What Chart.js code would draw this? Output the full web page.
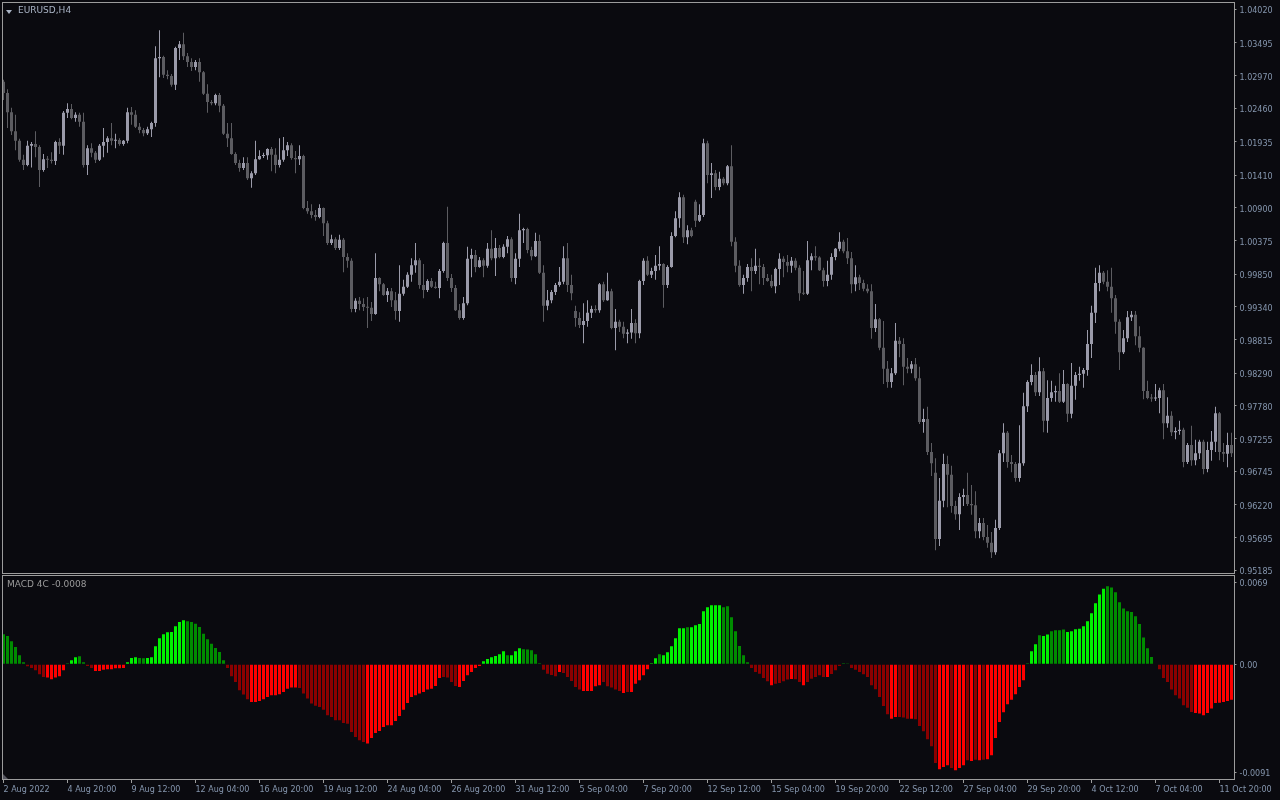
<!DOCTYPE html>
<html>
<head>
<meta charset="utf-8">
<title>EURUSD,H4</title>
<script src="https://cdn.jsdelivr.net/npm/chart.js@4.4.0/dist/chart.umd.min.js"></script>
<style>
    html, body {
        margin: 0;
        padding: 0;
        background: #0a0a0f;
        width: 1280px;
        height: 800px;
        overflow: hidden;
    }
    canvas {
        position: absolute;
        left: 0;
    }
    #price-chart { top: 0; }
    #macd-chart { top: 575px; }
    .label {
        position: absolute;
        font-family: "DejaVu Sans", sans-serif;
        font-size: 9px;
        line-height: 11px;
        white-space: nowrap;
    }
    #symbol { left: 18px; top: 5px; color: #a9b3c4; }
    #symbol-arrow {
        position: absolute;
        left: 6px;
        top: 10px;
        width: 0;
        height: 0;
        border-left: 3px solid transparent;
        border-right: 3px solid transparent;
        border-top: 4px solid #a9b3c4;
    }
    #macd-name { left: 7px; top: 579px; color: #9a9a9a; }
    #corner {
        position: absolute;
        left: 3px;
        top: 774px;
        width: 0;
        height: 0;
        border-left: 5px solid #55555f;
        border-top: 5px solid transparent;
    }
</style>
</head>
<body>
<canvas id="price-chart" width="1280" height="575"></canvas>
<canvas id="macd-chart" width="1280" height="225"></canvas>
<div id="symbol-arrow"></div>
<div class="label" id="symbol">EURUSD,H4</div>
<div class="label" id="macd-name">MACD 4C -0.0008</div>
<div id="corner"></div>

<script>
// EURUSD H4 candles, 2 Aug 2022 - 11 Oct 2022
const opens = [
    1.0288, 1.0270, 1.0240, 1.0210, 1.0195, 1.0165, 1.0157, 1.0187, 1.0190, 1.0185,
    1.0149, 1.0166, 1.0165, 1.0163, 1.0193, 1.0187, 1.0239, 1.0245, 1.0231, 1.0236,
    1.0225, 1.0157, 1.0183, 1.0176, 1.0165, 1.0187, 1.0193, 1.0199, 1.0195, 1.0196,
    1.0190, 1.0195, 1.0240, 1.0236, 1.0217, 1.0212, 1.0207, 1.0213, 1.0223, 1.0325,
    1.0327, 1.0299, 1.0297, 1.0283, 1.0341, 1.0347, 1.0328, 1.0319, 1.0311, 1.0319,
    1.0303, 1.0269, 1.0256, 1.0254, 1.0267, 1.0250, 1.0206, 1.0199, 1.0174, 1.0160,
    1.0152, 1.0160, 1.0136, 1.0144, 1.0166, 1.0171, 1.0172, 1.0182, 1.0173, 1.0157,
    1.0165, 1.0180, 1.0188, 1.0168, 1.0166, 1.0171, 1.0089, 1.0084, 1.0078, 1.0075,
    1.0089, 1.0065, 1.0034, 1.0040, 1.0026, 1.0039, 1.0012, 1.0006, 0.9930, 0.9943,
    0.9938, 0.9933, 0.9932, 0.9922, 0.9979, 0.9969, 0.9952, 0.9958, 0.9944, 0.9927,
    0.9954, 0.9965, 0.9984, 0.9999, 1.0007, 0.9968, 0.9960, 0.9974, 0.9965, 0.9963,
    0.9990, 1.0034, 0.9979, 0.9963, 0.9928, 0.9916, 0.9939, 1.0009, 1.0015, 0.9996,
    1.0007, 0.9998, 1.0025, 1.0010, 1.0026, 1.0012, 1.0028, 1.0040, 0.9979, 1.0009,
    1.0054, 1.0056, 1.0023, 1.0013, 1.0037, 0.9987, 0.9935, 0.9944, 0.9957, 0.9968,
    0.9973, 1.0010, 0.9968, 0.9927, 0.9916, 0.9905, 0.9911, 0.9924, 0.9930, 0.9928,
    0.9969, 0.9944, 0.9958, 0.9900, 0.9910, 0.9902, 0.9891, 0.9893, 0.9908, 0.9892,
    0.9974, 1.0006, 0.9984, 0.9990, 0.9998, 1.0001, 0.9968, 0.9996, 1.0045, 1.0073,
    1.0106, 1.0043, 1.0054, 1.0099, 1.0069, 1.0078, 1.0191, 1.0141, 1.0144, 1.0122,
    1.0135, 1.0128, 1.0155, 1.0036, 0.9998, 0.9968, 0.9979, 0.9996, 0.9990, 0.9998,
    0.9996, 0.9979, 0.9974, 0.9966, 0.9993, 1.0009, 1.0004, 0.9998, 1.0006, 0.9995,
    0.9955, 0.9954, 1.0007, 1.0013, 1.0011, 0.9991, 0.9974, 0.9984, 1.0012, 1.0025,
    1.0036, 1.0021, 1.0010, 0.9969, 0.9980, 0.9971, 0.9962, 0.9958, 0.9900, 0.9914,
    0.9869, 0.9836, 0.9815, 0.9829, 0.9880, 0.9875, 0.9839, 0.9836, 0.9843, 0.9821,
    0.9752, 0.9757, 0.9705, 0.9672, 0.9568, 0.9628, 0.9686, 0.9669, 0.9620, 0.9607,
    0.9634, 0.9637, 0.9623, 0.9621, 0.9580, 0.9593, 0.9571, 0.9562, 0.9547, 0.9585,
    0.9703, 0.9735, 0.9689, 0.9686, 0.9664, 0.9687, 0.9777, 0.9815, 0.9826, 0.9799,
    0.9832, 0.9754, 0.9790, 0.9799, 0.9801, 0.9784, 0.9812, 0.9765, 0.9809, 0.9826,
    0.9828, 0.9834, 0.9875, 0.9924, 0.9971, 0.9987, 0.9973, 0.9965, 0.9947, 0.9910,
    0.9862, 0.9884, 0.9917, 0.9921, 0.9887, 0.9869, 0.9801, 0.9790, 0.9789, 0.9790,
    0.9802, 0.9750, 0.9762, 0.9736, 0.9738, 0.9740, 0.9689, 0.9716, 0.9692, 0.9703,
    0.9721, 0.9678, 0.9708, 0.9721, 0.9766, 0.9705, 0.9702, 0.9716
];
const highs = [
    1.0291, 1.0276, 1.0247, 1.0236, 1.0198, 1.0173, 1.0195, 1.0193, 1.0210, 1.0188,
    1.0174, 1.0171, 1.0177, 1.0195, 1.0199, 1.0242, 1.0254, 1.0253, 1.0240, 1.0239,
    1.0239, 1.0188, 1.0191, 1.0179, 1.0190, 1.0215, 1.0202, 1.0223, 1.0206, 1.0199,
    1.0196, 1.0247, 1.0248, 1.0243, 1.0223, 1.0215, 1.0217, 1.0225, 1.0344, 1.0369,
    1.0329, 1.0306, 1.0300, 1.0343, 1.0352, 1.0365, 1.0333, 1.0325, 1.0322, 1.0325,
    1.0305, 1.0284, 1.0259, 1.0269, 1.0270, 1.0253, 1.0223, 1.0223, 1.0177, 1.0165,
    1.0169, 1.0169, 1.0147, 1.0195, 1.0180, 1.0176, 1.0183, 1.0185, 1.0183, 1.0199,
    1.0201, 1.0193, 1.0191, 1.0179, 1.0188, 1.0173, 1.0100, 1.0095, 1.0086, 1.0095,
    1.0090, 1.0069, 1.0047, 1.0043, 1.0047, 1.0042, 1.0018, 1.0010, 0.9947, 0.9949,
    0.9947, 0.9949, 0.9941, 1.0018, 0.9980, 0.9971, 0.9963, 0.9963, 0.9957, 0.9999,
    0.9976, 0.9988, 1.0010, 1.0034, 1.0010, 1.0001, 0.9977, 0.9979, 0.9973, 0.9993,
    1.0036, 1.0091, 0.9985, 0.9968, 0.9938, 0.9949, 1.0028, 1.0025, 1.0023, 1.0012,
    1.0010, 1.0034, 1.0054, 1.0042, 1.0031, 1.0032, 1.0045, 1.0043, 1.0018, 1.0080,
    1.0058, 1.0058, 1.0028, 1.0050, 1.0047, 0.9999, 0.9960, 0.9960, 0.9971, 0.9996,
    1.0029, 1.0034, 0.9984, 0.9935, 0.9925, 0.9939, 0.9944, 0.9935, 0.9936, 0.9971,
    0.9973, 0.9987, 0.9962, 0.9930, 0.9913, 0.9910, 0.9898, 0.9930, 0.9914, 0.9976,
    1.0010, 1.0013, 0.9995, 1.0015, 1.0029, 1.0002, 0.9999, 1.0051, 1.0084, 1.0114,
    1.0110, 1.0062, 1.0058, 1.0102, 1.0095, 1.0198, 1.0195, 1.0160, 1.0149, 1.0146,
    1.0138, 1.0157, 1.0188, 1.0043, 1.0007, 0.9984, 1.0001, 1.0010, 1.0025, 1.0010,
    1.0001, 0.9985, 0.9984, 0.9995, 1.0018, 1.0013, 1.0015, 1.0012, 1.0010, 0.9999,
    0.9990, 1.0037, 1.0018, 1.0029, 1.0013, 0.9995, 1.0006, 1.0018, 1.0026, 1.0051,
    1.0039, 1.0042, 1.0020, 0.9999, 0.9984, 0.9976, 0.9969, 0.9969, 0.9938, 0.9916,
    0.9911, 0.9848, 0.9837, 0.9908, 0.9886, 0.9884, 0.9853, 0.9848, 0.9853, 0.9839,
    0.9773, 0.9776, 0.9719, 0.9695, 0.9664, 0.9702, 0.9699, 0.9683, 0.9628, 0.9640,
    0.9647, 0.9672, 0.9653, 0.9643, 0.9601, 0.9601, 0.9590, 0.9579, 0.9598, 0.9708,
    0.9750, 0.9738, 0.9700, 0.9689, 0.9747, 0.9798, 0.9818, 0.9843, 0.9831, 0.9854,
    0.9837, 0.9818, 0.9817, 0.9809, 0.9829, 0.9834, 0.9813, 0.9845, 0.9831, 0.9839,
    0.9837, 0.9897, 0.9935, 0.9995, 0.9999, 0.9990, 0.9991, 0.9995, 0.9952, 0.9914,
    0.9897, 0.9927, 0.9927, 0.9927, 0.9903, 0.9870, 0.9817, 0.9796, 0.9812, 0.9806,
    0.9812, 0.9791, 0.9769, 0.9744, 0.9754, 0.9743, 0.9719, 0.9746, 0.9724, 0.9724,
    0.9724, 0.9721, 0.9738, 0.9776, 0.9768, 0.9719, 0.9735, 0.9735
];
const lows = [
    1.0259, 1.0215, 1.0204, 1.0180, 1.0162, 1.0149, 1.0155, 1.0153, 1.0169, 1.0122,
    1.0146, 1.0152, 1.0159, 1.0157, 1.0174, 1.0173, 1.0231, 1.0229, 1.0225, 1.0217,
    1.0153, 1.0141, 1.0169, 1.0160, 1.0163, 1.0169, 1.0176, 1.0188, 1.0183, 1.0187,
    1.0187, 1.0191, 1.0220, 1.0215, 1.0207, 1.0202, 1.0204, 1.0201, 1.0217, 1.0295,
    1.0294, 1.0292, 1.0280, 1.0275, 1.0322, 1.0322, 1.0311, 1.0305, 1.0306, 1.0288,
    1.0267, 1.0239, 1.0251, 1.0251, 1.0240, 1.0204, 1.0185, 1.0173, 1.0157, 1.0146,
    1.0149, 1.0133, 1.0121, 1.0141, 1.0165, 1.0168, 1.0165, 1.0147, 1.0144, 1.0153,
    1.0162, 1.0171, 1.0165, 1.0144, 1.0157, 1.0087, 1.0080, 1.0073, 1.0069, 1.0073,
    1.0045, 1.0031, 1.0031, 1.0023, 1.0023, 0.9988, 0.9995, 0.9925, 0.9925, 0.9928,
    0.9927, 0.9900, 0.9911, 0.9921, 0.9958, 0.9951, 0.9941, 0.9933, 0.9913, 0.9910,
    0.9951, 0.9963, 0.9973, 0.9987, 0.9962, 0.9947, 0.9957, 0.9963, 0.9962, 0.9947,
    0.9987, 0.9974, 0.9957, 0.9927, 0.9913, 0.9913, 0.9936, 0.9980, 0.9988, 0.9995,
    0.9980, 0.9995, 1.0007, 0.9982, 1.0010, 1.0010, 1.0018, 0.9973, 0.9969, 0.9996,
    1.0034, 1.0018, 1.0007, 1.0012, 0.9985, 0.9910, 0.9928, 0.9939, 0.9952, 0.9965,
    0.9969, 0.9957, 0.9944, 0.9902, 0.9900, 0.9876, 0.9902, 0.9916, 0.9924, 0.9924,
    0.9941, 0.9943, 0.9898, 0.9865, 0.9894, 0.9884, 0.9876, 0.9883, 0.9876, 0.9884,
    0.9968, 0.9982, 0.9979, 0.9976, 0.9991, 0.9932, 0.9963, 0.9995, 1.0043, 1.0058,
    1.0034, 1.0032, 1.0043, 1.0059, 1.0067, 1.0075, 1.0128, 1.0105, 1.0117, 1.0117,
    1.0125, 1.0125, 1.0029, 0.9988, 0.9965, 0.9954, 0.9973, 0.9958, 0.9985, 0.9969,
    0.9968, 0.9973, 0.9963, 0.9955, 0.9968, 0.9980, 0.9988, 0.9987, 0.9991, 0.9943,
    0.9952, 0.9952, 0.9991, 1.0006, 0.9990, 0.9965, 0.9966, 0.9976, 1.0007, 1.0021,
    1.0018, 1.0001, 0.9955, 0.9958, 0.9960, 0.9958, 0.9955, 0.9883, 0.9894, 0.9865,
    0.9812, 0.9806, 0.9806, 0.9826, 0.9854, 0.9810, 0.9829, 0.9829, 0.9817, 0.9749,
    0.9735, 0.9700, 0.9667, 0.9550, 0.9557, 0.9618, 0.9618, 0.9609, 0.9598, 0.9582,
    0.9620, 0.9620, 0.9606, 0.9569, 0.9569, 0.9566, 0.9554, 0.9538, 0.9543, 0.9582,
    0.9689, 0.9680, 0.9673, 0.9658, 0.9658, 0.9683, 0.9768, 0.9810, 0.9793, 0.9793,
    0.9736, 0.9735, 0.9784, 0.9784, 0.9782, 0.9782, 0.9752, 0.9758, 0.9787, 0.9817,
    0.9806, 0.9825, 0.9853, 0.9908, 0.9958, 0.9969, 0.9958, 0.9924, 0.9891, 0.9834,
    0.9859, 0.9878, 0.9911, 0.9873, 0.9862, 0.9788, 0.9788, 0.9784, 0.9785, 0.9766,
    0.9725, 0.9743, 0.9730, 0.9725, 0.9732, 0.9681, 0.9686, 0.9683, 0.9684, 0.9694,
    0.9670, 0.9673, 0.9691, 0.9705, 0.9692, 0.9689, 0.9681, 0.9697
];
const closes = [
    1.0270, 1.0240, 1.0210, 1.0195, 1.0165, 1.0157, 1.0187, 1.0190, 1.0185, 1.0149,
    1.0166, 1.0165, 1.0163, 1.0193, 1.0187, 1.0239, 1.0245, 1.0231, 1.0236, 1.0225,
    1.0157, 1.0183, 1.0176, 1.0165, 1.0187, 1.0193, 1.0199, 1.0195, 1.0196, 1.0190,
    1.0195, 1.0240, 1.0236, 1.0217, 1.0212, 1.0207, 1.0213, 1.0223, 1.0325, 1.0327,
    1.0299, 1.0297, 1.0283, 1.0341, 1.0347, 1.0328, 1.0319, 1.0311, 1.0319, 1.0303,
    1.0269, 1.0256, 1.0254, 1.0267, 1.0250, 1.0206, 1.0199, 1.0174, 1.0160, 1.0152,
    1.0160, 1.0136, 1.0144, 1.0166, 1.0171, 1.0172, 1.0182, 1.0173, 1.0157, 1.0165,
    1.0180, 1.0188, 1.0168, 1.0166, 1.0171, 1.0089, 1.0084, 1.0078, 1.0075, 1.0089,
    1.0065, 1.0034, 1.0040, 1.0026, 1.0039, 1.0012, 1.0006, 0.9930, 0.9943, 0.9938,
    0.9933, 0.9932, 0.9922, 0.9979, 0.9969, 0.9952, 0.9958, 0.9944, 0.9927, 0.9954,
    0.9965, 0.9984, 0.9999, 1.0007, 0.9968, 0.9960, 0.9974, 0.9965, 0.9963, 0.9990,
    1.0034, 0.9979, 0.9963, 0.9928, 0.9916, 0.9939, 1.0009, 1.0015, 0.9996, 1.0007,
    0.9998, 1.0025, 1.0010, 1.0026, 1.0012, 1.0028, 1.0040, 0.9979, 1.0009, 1.0054,
    1.0056, 1.0023, 1.0013, 1.0037, 0.9987, 0.9935, 0.9944, 0.9957, 0.9968, 0.9973,
    1.0010, 0.9968, 0.9955, 0.9916, 0.9905, 0.9911, 0.9924, 0.9930, 0.9928, 0.9969,
    0.9944, 0.9958, 0.9900, 0.9910, 0.9902, 0.9891, 0.9893, 0.9908, 0.9892, 0.9974,
    1.0006, 0.9984, 0.9990, 0.9998, 1.0001, 0.9968, 0.9996, 1.0045, 1.0073, 1.0106,
    1.0043, 1.0054, 1.0045, 1.0069, 1.0078, 1.0191, 1.0141, 1.0144, 1.0122, 1.0135,
    1.0128, 1.0155, 1.0036, 0.9998, 0.9968, 0.9979, 0.9996, 0.9990, 0.9998, 0.9996,
    0.9979, 0.9974, 0.9966, 0.9993, 1.0009, 1.0004, 0.9998, 1.0006, 0.9995, 0.9955,
    0.9954, 1.0007, 1.0013, 1.0011, 0.9991, 0.9974, 0.9984, 1.0012, 1.0025, 1.0036,
    1.0021, 1.0010, 0.9969, 0.9980, 0.9971, 0.9962, 0.9958, 0.9900, 0.9914, 0.9869,
    0.9836, 0.9815, 0.9829, 0.9880, 0.9875, 0.9839, 0.9836, 0.9843, 0.9821, 0.9752,
    0.9757, 0.9705, 0.9687, 0.9568, 0.9628, 0.9686, 0.9669, 0.9620, 0.9607, 0.9634,
    0.9637, 0.9623, 0.9621, 0.9580, 0.9593, 0.9571, 0.9562, 0.9547, 0.9585, 0.9703,
    0.9735, 0.9689, 0.9686, 0.9664, 0.9687, 0.9777, 0.9815, 0.9826, 0.9799, 0.9832,
    0.9754, 0.9790, 0.9799, 0.9801, 0.9784, 0.9812, 0.9765, 0.9809, 0.9826, 0.9828,
    0.9834, 0.9875, 0.9924, 0.9971, 0.9987, 0.9973, 0.9965, 0.9947, 0.9910, 0.9862,
    0.9884, 0.9917, 0.9921, 0.9887, 0.9869, 0.9801, 0.9790, 0.9789, 0.9790, 0.9802,
    0.9750, 0.9762, 0.9736, 0.9738, 0.9740, 0.9689, 0.9716, 0.9692, 0.9703, 0.9721,
    0.9678, 0.9708, 0.9721, 0.9766, 0.9705, 0.9702, 0.9716, 0.9703
];

// MACD 4C histogram values, one per candle
const macd = [
    0.00253, 0.00239, 0.00194, 0.00146, 0.00076, 0.00017, -0.00017, -0.00031, -0.00051, -0.00084,
    -0.00107, -0.00112, -0.00126, -0.00112, -0.00101, -0.00051, 0.00006, 0.00034, 0.00059, 0.00067,
    0.00017, -0.00014, -0.00031, -0.00056, -0.00056, -0.00045, -0.00042, -0.00042, -0.00034, -0.00034,
    -0.00031, 0.00017, 0.00053, 0.00059, 0.00053, 0.00051, 0.00053, 0.00059, 0.00152, 0.00219,
    0.00253, 0.00269, 0.00272, 0.00320, 0.00356, 0.00371, 0.00362, 0.00356, 0.00342, 0.00314,
    0.00258, 0.00211, 0.00174, 0.00138, 0.00104, 0.00034, -0.00031, -0.00101, -0.00149, -0.00219,
    -0.00255, -0.00295, -0.00317, -0.00317, -0.00309, -0.00295, -0.00275, -0.00261, -0.00261, -0.00253,
    -0.00233, -0.00205, -0.00196, -0.00196, -0.00199, -0.00247, -0.00289, -0.00331, -0.00350, -0.00359,
    -0.00382, -0.00429, -0.00444, -0.00472, -0.00472, -0.00494, -0.00500, -0.00570, -0.00612, -0.00640,
    -0.00654, -0.00668, -0.00620, -0.00578, -0.00561, -0.00528, -0.00514, -0.00514, -0.00477, -0.00435,
    -0.00382, -0.00326, -0.00275, -0.00261, -0.00247, -0.00233, -0.00213, -0.00205, -0.00182, -0.00115,
    -0.00107, -0.00112, -0.00149, -0.00182, -0.00191, -0.00140, -0.00093, -0.00065, -0.00031, -0.00014,
    0.00025, 0.00045, 0.00059, 0.00070, 0.00084, 0.00109, 0.00076, 0.00076, 0.00109, 0.00135,
    0.00126, 0.00124, 0.00118, 0.00084, 0.00008, -0.00045, -0.00079, -0.00090, -0.00101, -0.00065,
    -0.00073, -0.00107, -0.00140, -0.00191, -0.00213, -0.00225, -0.00225, -0.00225, -0.00185, -0.00177,
    -0.00149, -0.00185, -0.00196, -0.00213, -0.00225, -0.00241, -0.00233, -0.00233, -0.00163, -0.00135,
    -0.00093, -0.00042, 0.00008, 0.00051, 0.00084, 0.00076, 0.00101, 0.00152, 0.00219, 0.00303,
    0.00303, 0.00312, 0.00312, 0.00328, 0.00340, 0.00446, 0.00480, 0.00497, 0.00497, 0.00497,
    0.00480, 0.00488, 0.00396, 0.00278, 0.00154, 0.00076, 0.00017, -0.00031, -0.00065, -0.00079,
    -0.00115, -0.00143, -0.00177, -0.00163, -0.00157, -0.00143, -0.00129, -0.00124, -0.00126, -0.00149,
    -0.00177, -0.00149, -0.00121, -0.00107, -0.00093, -0.00107, -0.00107, -0.00081, -0.00051, -0.00014,
    0.00003, 0.00006, -0.00031, -0.00045, -0.00065, -0.00084, -0.00107, -0.00177, -0.00211, -0.00275,
    -0.00351, -0.00421, -0.00458, -0.00444, -0.00444, -0.00449, -0.00458, -0.00458, -0.00463, -0.00519,
    -0.00564, -0.00632, -0.00691, -0.00831, -0.00884, -0.00865, -0.00851, -0.00873, -0.00893, -0.00873,
    -0.00851, -0.00808, -0.00814, -0.00803, -0.00808, -0.00803, -0.00800, -0.00766, -0.00620, -0.00486,
    -0.00404, -0.00337, -0.00298, -0.00253, -0.00191, -0.00135, 0.00006, 0.00109, 0.00168, 0.00244,
    0.00239, 0.00250, 0.00278, 0.00286, 0.00286, 0.00292, 0.00272, 0.00278, 0.00295, 0.00300,
    0.00320, 0.00362, 0.00429, 0.00514, 0.00587, 0.00637, 0.00657, 0.00646, 0.00606, 0.00522,
    0.00469, 0.00446, 0.00441, 0.00404, 0.00340, 0.00225, 0.00135, 0.00062, 0.00004, -0.00042,
    -0.00115, -0.00149, -0.00213, -0.00261, -0.00289, -0.00345, -0.00365, -0.00401, -0.00410, -0.00415,
    -0.00429, -0.00410, -0.00373, -0.00326, -0.00323, -0.00317, -0.00309, -0.00298
];

// which of the two MACD 4C buffers each bar sits in (1 = "up" buffer, 0 = "down" buffer)
const macdUp = (
    "0000000000" + "0111111110" + "0001111111" + "1111001111" + "1111110000" +
    "0000000000" + "0011111111" + "1111000000" + "0000000000" + "0111111111" +
    "1111111111" + "0000111111" + "1111110111" + "0000000001" + "0000011111" +
    "0000010111" + "1111011111" + "1011111111" + "0000000000" + "0010000100" +
    "1000001000" + "1000000000" + "0011000100" + "0000111011" + "1010101111" +
    "1111111110" + "1100001111" + "1111110000" + "0000000000" + "0000000011" +
    "11111111"
).split("").map(Number);

// one label every 16 bars
const timeLabels = [
    "2 Aug 2022", "4 Aug 20:00", "9 Aug 12:00", "12 Aug 04:00", "16 Aug 20:00",
    "19 Aug 12:00", "24 Aug 04:00", "26 Aug 20:00", "31 Aug 12:00", "5 Sep 04:00",
    "7 Sep 20:00", "12 Sep 12:00", "15 Sep 04:00", "19 Sep 20:00", "22 Sep 12:00",
    "27 Sep 04:00", "29 Sep 20:00", "4 Oct 12:00", "7 Oct 04:00", "11 Oct 20:00"
];
const priceTicks = [
    1.04020, 1.03495, 1.02970, 1.02460, 1.01935, 1.01410, 1.00900, 1.00375, 0.99850,
    0.99340, 0.98815, 0.98290, 0.97780, 0.97255, 0.96745, 0.96220, 0.95695, 0.95185
];
const macdTicks = [0.0069, 0, -0.0091];

const LABEL_EVERY = 16;
const AXIS_WIDTH = 46.5;

const colors = {
    bull: "#9b9baa",
    bear: "#5c5c61",
    frame: "#9c9c9c",
    text: "#8596ae",
    lime: "#00f000",
    green: "#008c00",
    red: "#ff0000",
    maroon: "#8b0000",
};

Chart.defaults.font.family = '"DejaVu Sans", sans-serif';
Chart.defaults.font.size = 8;
Chart.defaults.color = colors.text;

const barIndex = opens.map((_, i) => i);

/**
 * Draw the grey panel border round the plot area
 */
const framePlugin = {
    id: "frame",
    afterDraw(chart) {
        const { ctx, chartArea } = chart;
        const left = Math.round(chartArea.left);
        const top = Math.round(chartArea.top);
        const right = Math.round(chartArea.right);
        const bottom = Math.round(chartArea.bottom);
        ctx.save();
        ctx.strokeStyle = colors.frame;
        ctx.lineWidth = 1;
        ctx.strokeRect(left + 0.5, top + 0.5, right - left, bottom - top);
        ctx.restore();
    },
};

function rightAxis(min, max, ticks, format) {
    return {
        position: "right",
        min: min,
        max: max,
        beginAtZero: false,
        afterBuildTicks: (scale) => {
            scale.ticks = ticks.map((v) => ({ value: v }));
        },
        afterFit: (scale) => {
            // fixed width, and no extra room for the end labels
            scale.width = AXIS_WIDTH;
            scale.paddingTop = 0;
            scale.paddingBottom = 0;
        },
        ticks: {
            padding: 3,
            labelOffset: 2,
            color: colors.text,
            callback: format,
        },
        grid: {
            drawOnChartArea: false,
            drawTicks: true,
            tickLength: 3,
            color: colors.frame,
        },
        border: { display: false },
    };
}

// Price panel: wicks and bodies as floating bars
const candleColors = opens.map((o, i) => (closes[i] >= o ? colors.bull : colors.bear));

new Chart(document.getElementById("price-chart"), {
    type: "bar",
    data: {
        labels: barIndex,
        datasets: [
            {
                data: lows.map((l, i) => [l, highs[i]]),
                backgroundColor: candleColors,
                barThickness: 1,
                grouped: false,
                inflateAmount: 0,
                order: 2,
            },
            {
                data: opens.map((o, i) => [o, closes[i]]),
                backgroundColor: candleColors,
                barThickness: 3,
                minBarLength: 1,
                grouped: false,
                inflateAmount: 0,
                order: 1,
            },
        ],
    },
    options: {
        responsive: false,
        animation: false,
        devicePixelRatio: 1,
        layout: { padding: { left: 1.5, top: 2, right: 0, bottom: 2 } },
        plugins: {
            legend: { display: false },
            tooltip: { enabled: false },
        },
        scales: {
            x: { display: false, offset: true },
            y: rightAxis(0.95143, 1.04135, priceTicks, (v) => Number(v).toFixed(5)),
        },
    },
    plugins: [framePlugin],
});

// MACD panel
const macdColors = macd.map((v, i) => {
    if (v >= 0) return macdUp[i] ? colors.lime : colors.green;
    return macdUp[i] ? colors.red : colors.maroon;
});

new Chart(document.getElementById("macd-chart"), {
    type: "bar",
    data: {
        labels: barIndex,
        datasets: [
            {
                data: macd,
                backgroundColor: macdColors,
                barThickness: 3,
                inflateAmount: 0,
            },
        ],
    },
    options: {
        responsive: false,
        animation: false,
        devicePixelRatio: 1,
        layout: { padding: { left: 1.5, top: 0, right: 0, bottom: 0 } },
        plugins: {
            legend: { display: false },
            tooltip: { enabled: false },
        },
        scales: {
            x: {
                offset: true,
                afterFit: (scale) => {
                    scale.height = 21;
                    scale.paddingLeft = 0;
                    scale.paddingRight = 0;
                },
                ticks: {
                    autoSkip: false,
                    maxRotation: 0,
                    minRotation: 0,
                    align: "start",
                    padding: 2,
                    color: colors.text,
                    callback: function (value, index) {
                        return index % LABEL_EVERY === 0 ? timeLabels[index / LABEL_EVERY] : "";
                    },
                },
                grid: {
                    offset: false,
                    drawOnChartArea: false,
                    drawTicks: true,
                    tickLength: 4,
                    color: (ctx) => (ctx.index % LABEL_EVERY === 0 ? colors.frame : "rgba(0,0,0,0)"),
                },
                border: { display: false },
            },
            y: rightAxis(-0.00966, 0.00752, macdTicks, (v) => (v === 0 ? "0.00" : Number(v).toFixed(4))),
        },
    },
    plugins: [framePlugin],
});
</script>
</body>
</html>
